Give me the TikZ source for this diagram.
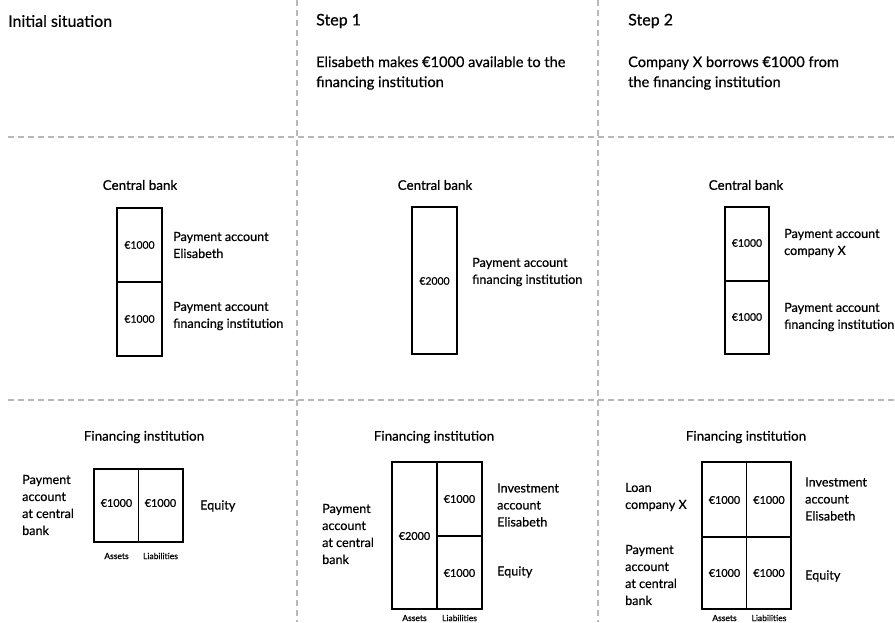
\documentclass[tikz,border=0pt]{standalone}
\usepackage{fontspec}
\setmainfont{Lato}[FakeBold=0.6]
\begin{document}
\begin{tikzpicture}[x=1pt,y=-1pt,
  sep/.style={draw=black!28,line width=1.2pt,dash pattern=on 6pt off 4pt},
  acct/.style={draw=black,line width=1.9pt},
  title/.style={anchor=west,font=\fontsize{16}{19}\selectfont,inner sep=0pt},
  sub/.style={anchor=west,align=left,font=\fontsize{14.6}{20}\selectfont,inner sep=0pt},
  head/.style={font=\fontsize{13.4}{15}\selectfont,inner sep=0pt},
  lbl/.style={anchor=west,align=left,font=\fontsize{12.6}{17}\selectfont,inner sep=0pt},
  amt/.style={font=\fontsize{10.4}{12}\selectfont,inner sep=0pt},
  amtb/.style={font=\fontsize{10.8}{12}\selectfont,inner sep=0pt},
  tiny/.style={font=\fontsize{8.5}{10}\selectfont,inner sep=0pt}]
\useasboundingbox (0,0) rectangle (895,622);
% separators
\draw[sep] (297,0) -- (297,622);
\draw[sep] (598,0) -- (598,622);
\draw[sep] (8,137) -- (895,137);
\draw[sep] (8,400) -- (895,400);
% titles
\node[title] (t0) at (8,21) {Initial situation};
\node[title] (t1) at (316,21) {Step 1};
\node[title] (t2) at (628,21) {Step 2};
\node[sub] (s1) at (316,73) {Elisabeth makes €1000 available to the\\financing institution};
\node[sub] (s2) at (628,73) {Company X borrows €1000 from\\the financing institution};
% ---- central bank, initial
\node[head] (cb0) at (140,185) {Central bank};
\draw[acct] (117,208) rectangle (162,356);
\draw[acct] (117,282) -- (162,282);
\node[amt] (cb0a) at (139.5,245) {€1000};
\node[amt] (cb0b) at (139.5,319) {€1000};
\node[lbl] (cb0la) at (173,245) {Payment account\\Elisabeth};
\node[lbl] (cb0lb) at (173,316) {Payment account\\financing institution};
% ---- central bank, step 1
\node[head] (cb1) at (435,185) {Central bank};
\draw[acct] (412,207) rectangle (457,354);
\node[amt] (cb1a) at (434.5,281) {€2000};
\node[lbl] (cb1la) at (472,272) {Payment account\\financing institution};
% ---- central bank, step 2
\node[head] (cb2) at (746,185) {Central bank};
\draw[acct] (725,207) rectangle (769,354);
\draw[acct] (725,281) -- (769,281);
\node[amt] (cb2a) at (747,243) {€1000};
\node[amt] (cb2b) at (747,317) {€1000};
\node[lbl] (cb2la) at (784,243) {Payment account\\company X};
\node[lbl] (cb2lb) at (784,317) {Payment account\\financing institution};
% ---- financing institution, initial
\node[head] (fi0) at (144,437) {Financing institution};
\draw[acct] (94,469) rectangle (183,542);
\draw[acct] (138.5,469) -- (138.5,542);
\node[amtb] (fi0a) at (116.5,503) {€1000};
\node[amtb] (fi0b) at (160.5,503) {€1000};
\node[tiny] (fi0as) at (116.5,556) {Assets};
\node[tiny] (fi0li) at (160.5,556) {Liabilities};
\node[lbl] (fi0la) at (22,505) {Payment\\account\\at central\\bank};
\node[lbl] (fi0lb) at (200,506) {Equity};
% ---- financing institution, step 1
\node[head] (fi1) at (434,437) {Financing institution};
\draw[acct] (392,462) rectangle (482,609);
\draw[acct] (437,462) -- (437,609);
\draw[acct] (437,536) -- (482,536);
\node[amtb] (fi1a) at (414.5,536) {€2000};
\node[amtb] (fi1b) at (459.5,499) {€1000};
\node[amtb] (fi1c) at (459.5,573) {€1000};
\node[tiny] (fi1as) at (414.5,618) {Assets};
\node[tiny] (fi1li) at (459.5,618) {Liabilities};
\node[lbl] (fi1la) at (322,534) {Payment\\account\\at central\\bank};
\node[lbl] (fi1lb) at (497,505) {Investment\\account\\Elisabeth};
\node[lbl] (fi1lc) at (497,572) {Equity};
% ---- financing institution, step 2
\node[head] (fi2) at (746,437) {Financing institution};
\draw[acct] (702,462) rectangle (791,609);
\draw[acct] (746.5,462) -- (746.5,609);
\draw[acct] (702,537) -- (791,537);
\node[amtb] (fi2a) at (724.5,500) {€1000};
\node[amtb] (fi2b) at (769,500) {€1000};
\node[amtb] (fi2c) at (724.5,573) {€1000};
\node[amtb] (fi2d) at (769,573) {€1000};
\node[tiny] (fi2as) at (724.5,618) {Assets};
\node[tiny] (fi2li) at (769,618) {Liabilities};
\node[lbl] (fi2la) at (625,497) {Loan\\company X};
\node[lbl] (fi2lb) at (625,575) {Payment\\account\\at central\\bank};
\node[lbl] (fi2lc) at (805,499) {Investment\\account\\Elisabeth};
\node[lbl] (fi2ld) at (805,576) {Equity};
\end{tikzpicture}
\end{document}
